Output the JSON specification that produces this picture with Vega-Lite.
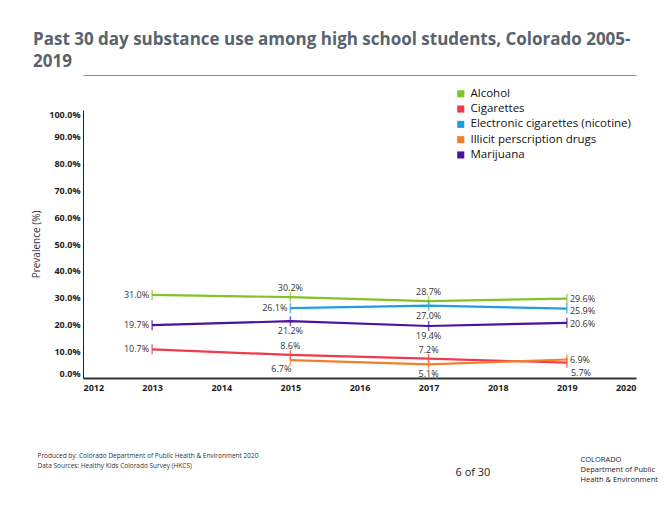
{
  "$schema": "https://vega.github.io/schema/vega-lite/v6.json",
  "width": 553,
  "height": 268,
  "autosize": {"type": "none"},
  "padding": {"left": 83, "top": 110, "right": 34, "bottom": 130},
  "background": "white",
  "config": {
    "font": "Open Sans",
    "view": {"stroke": null},
    "axis": {"grid": false, "ticks": false}
  },
  "title": {
    "text": ["Past 30 day substance use among high school students, Colorado 2005-", "2019"],
    "anchor": "start",
    "frame": "group",
    "dx": -50,
    "offset": 4,
    "fontSize": 17,
    "lineHeight": 22,
    "font": "Open Sans",
    "fontWeight": "bold",
    "color": "#59636e"
  },
  "data": {
    "values": [
      {"series": "Alcohol", "year": 2013, "value": 31.0},
      {"series": "Alcohol", "year": 2015, "value": 30.2},
      {"series": "Alcohol", "year": 2017, "value": 28.7},
      {"series": "Alcohol", "year": 2019, "value": 29.6},
      {"series": "Cigarettes", "year": 2013, "value": 10.7},
      {"series": "Cigarettes", "year": 2015, "value": 8.6},
      {"series": "Cigarettes", "year": 2017, "value": 7.2},
      {"series": "Cigarettes", "year": 2019, "value": 5.7},
      {"series": "Electronic cigarettes (nicotine)", "year": 2015, "value": 26.1},
      {"series": "Electronic cigarettes (nicotine)", "year": 2017, "value": 27.0},
      {"series": "Electronic cigarettes (nicotine)", "year": 2019, "value": 25.9},
      {"series": "Illicit perscription drugs", "year": 2015, "value": 6.7},
      {"series": "Illicit perscription drugs", "year": 2017, "value": 5.1},
      {"series": "Illicit perscription drugs", "year": 2019, "value": 6.9},
      {"series": "Marijuana", "year": 2013, "value": 19.7},
      {"series": "Marijuana", "year": 2015, "value": 21.2},
      {"series": "Marijuana", "year": 2017, "value": 19.4},
      {"series": "Marijuana", "year": 2019, "value": 20.6}
    ]
  },
  "resolve": {"axis": {"x": "independent", "y": "independent"}},
  "layer": [
    {
      "mark": {"type": "line", "strokeWidth": 2.2},
      "encoding": {
        "x": {
          "field": "year", "type": "quantitative",
          "scale": {"domain": [2012, 2020], "nice": false, "zero": false},
          "axis": {
            "values": [2012, 2013, 2014, 2015, 2016, 2017, 2018, 2019, 2020],
            "format": "d",
            "labelFlush": true,
            "labelFontSize": 9,
            "labelFontWeight": "bold",
            "labelColor": "#222",
            "labelPadding": 5,
            "domainColor": "#333",
            "domainWidth": 2,
            "title": ["Produced by: Colorado Department of Public Health & Environment 2020", "Data Sources: Healthy Kids Colorado Survey (HKCS)"],
            "titleFontSize": 6.5,
            "titleFontWeight": "normal",
            "titleColor": "#333",
            "titleAlign": "left",
            "titleAnchor": "start",
            "titleBaseline": "top",
            "titleLineHeight": 10,
            "titleX": -46,
            "titleY": 74
          }
        },
        "y": {
          "field": "value", "type": "quantitative",
          "scale": {"domain": [0, 100], "nice": false},
          "axis": {
            "values": [0, 10, 20, 30, 40, 50, 60, 70, 80, 90, 100],
            "labelExpr": "format(datum.value, '.1f') + '%'",
            "labelFlush": true,
            "labelFontSize": 9,
            "labelFontWeight": "bold",
            "labelColor": "#222",
            "labelPadding": 3,
            "domainColor": "#222",
            "domainWidth": 1,
            "title": "Prevalence (%)",
            "titleFontSize": 10,
            "titleFontWeight": "normal",
            "titleColor": "#333",
            "titlePadding": 7
          }
        },
        "color": {
          "field": "series", "type": "nominal",
          "scale": {
            "domain": ["Alcohol", "Cigarettes", "Electronic cigarettes (nicotine)", "Illicit perscription drugs", "Marijuana"],
            "range": ["#84c225", "#ef3b4c", "#1f9fe0", "#f27f2c", "#4a12a0"]
          },
          "legend": {
            "title": null,
            "orient": "none",
            "legendX": 372,
            "legendY": -22,
            "symbolType": "square",
            "symbolSize": 50,
            "symbolStrokeWidth": 0,
            "labelFontSize": 11.5,
            "labelLimit": 300,
            "labelColor": "#111",
            "labelOffset": 4,
            "rowPadding": 2.3,
            "encode": {"symbols": {"update": {"fill": {"scale": "color", "field": "value"}, "fillOpacity": {"value": 1}, "strokeWidth": {"value": 0}}}}
          }
        }
      }
    },
    {
      "mark": {"type": "tick", "orient": "vertical", "size": 10, "thickness": 1.5},
      "encoding": {
        "x": {
          "field": "year", "type": "quantitative",
          "axis": {
            "orient": "top", "offset": 35, "labels": false, "domain": true,
            "domainColor": "#8a8f96", "domainWidth": 1,
            "title": "6 of 30", "titleFontSize": 11, "titleFontWeight": "normal",
            "titleColor": "#222", "titleAlign": "left", "titleBaseline": "middle",
            "titleX": 372, "titleY": 397
          }
        },
        "y": {
          "field": "value", "type": "quantitative",
          "axis": {
            "orient": "right", "labels": false, "domain": false,
            "title": ["COLORADO", "Department of Public", "Health & Environment"],
            "titleAngle": 0, "titleFontSize": 7.5, "titleFontWeight": "normal",
            "titleColor": "#222", "titleAlign": "left", "titleBaseline": "top",
            "titleLineHeight": 10, "titleX": -56, "titleY": 345
          }
        },
        "color": {"field": "series", "type": "nominal"}
      }
    },
    {
      "transform": [{"filter": "(datum.year == 2013) || (datum.year == 2015 && datum.series == 'Electronic cigarettes (nicotine)')"}],
      "mark": {"type": "text", "align": "right", "baseline": "middle", "dx": -3, "fontSize": 9, "color": "#333", "text": {"expr": "format(datum.value, '.1f') + '%'"}},
      "encoding": {
        "x": {"field": "year", "type": "quantitative", "axis": null},
        "y": {"field": "value", "type": "quantitative", "axis": null}
      }
    },
    {
      "transform": [{"filter": "datum.year == 2019 && (datum.series == 'Alcohol' || datum.series == 'Illicit perscription drugs')"}],
      "mark": {"type": "text", "align": "left", "baseline": "middle", "dx": 3, "dy": 0, "fontSize": 9, "color": "#333", "text": {"expr": "format(datum.value, '.1f') + '%'"}},
      "encoding": {
        "x": {"field": "year", "type": "quantitative", "axis": null},
        "y": {"field": "value", "type": "quantitative", "axis": null}
      }
    },
    {
      "transform": [{"filter": "datum.year == 2019 && datum.series == 'Marijuana'"}],
      "mark": {"type": "text", "align": "left", "baseline": "middle", "dx": 3, "dy": 1.5, "fontSize": 9, "color": "#333", "text": {"expr": "format(datum.value, '.1f') + '%'"}},
      "encoding": {
        "x": {"field": "year", "type": "quantitative", "axis": null},
        "y": {"field": "value", "type": "quantitative", "axis": null}
      }
    },
    {
      "transform": [{"filter": "datum.year == 2019 && datum.series == 'Electronic cigarettes (nicotine)'"}],
      "mark": {"type": "text", "align": "left", "baseline": "middle", "dx": 3, "dy": 2.5, "fontSize": 9, "color": "#333", "text": {"expr": "format(datum.value, '.1f') + '%'"}},
      "encoding": {
        "x": {"field": "year", "type": "quantitative", "axis": null},
        "y": {"field": "value", "type": "quantitative", "axis": null}
      }
    },
    {
      "transform": [{"filter": "datum.series == 'Alcohol' && (datum.year == 2015 || datum.year == 2017) || datum.series == 'Cigarettes' && (datum.year == 2015 || datum.year == 2017)"}],
      "mark": {"type": "text", "align": "center", "baseline": "middle", "dy": -9, "fontSize": 9, "color": "#333", "text": {"expr": "format(datum.value, '.1f') + '%'"}},
      "encoding": {
        "x": {"field": "year", "type": "quantitative", "axis": null},
        "y": {"field": "value", "type": "quantitative", "axis": null}
      }
    },
    {
      "transform": [{"filter": "datum.year == 2017 && (datum.series == 'Electronic cigarettes (nicotine)' || datum.series == 'Marijuana' || datum.series == 'Illicit perscription drugs') || datum.year == 2015 && datum.series == 'Marijuana'"}],
      "mark": {"type": "text", "align": "center", "baseline": "middle", "dy": 10, "fontSize": 9, "color": "#333", "text": {"expr": "format(datum.value, '.1f') + '%'"}},
      "encoding": {
        "x": {"field": "year", "type": "quantitative", "axis": null},
        "y": {"field": "value", "type": "quantitative", "axis": null}
      }
    },
    {
      "transform": [{"filter": "datum.year == 2015 && datum.series == 'Illicit perscription drugs'"}],
      "mark": {"type": "text", "align": "center", "baseline": "middle", "dx": -9, "dy": 9, "fontSize": 9, "color": "#333", "text": {"expr": "format(datum.value, '.1f') + '%'"}},
      "encoding": {
        "x": {"field": "year", "type": "quantitative", "axis": null},
        "y": {"field": "value", "type": "quantitative", "axis": null}
      }
    },
    {
      "transform": [{"filter": "datum.year == 2019 && datum.series == 'Cigarettes'"}],
      "mark": {"type": "text", "align": "left", "baseline": "middle", "dx": 4, "dy": 10, "fontSize": 9, "color": "#333", "text": {"expr": "format(datum.value, '.1f') + '%'"}},
      "encoding": {
        "x": {"field": "year", "type": "quantitative", "axis": null},
        "y": {"field": "value", "type": "quantitative", "axis": null}
      }
    }
  ]
}
